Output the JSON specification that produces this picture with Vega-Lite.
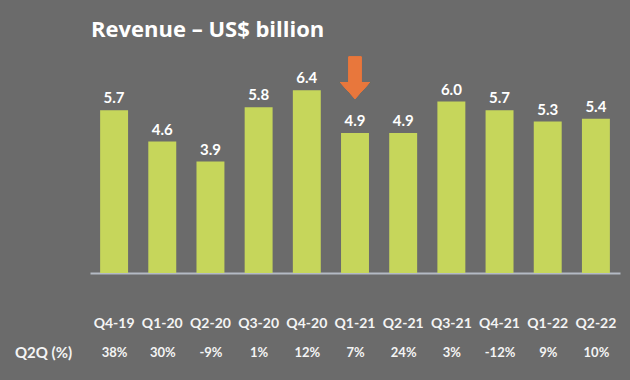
{
  "$schema": "https://vega.github.io/schema/vega-lite/v6.json",
  "width": 530,
  "height": 200,
  "autosize": "none",
  "padding": {"left": 90, "top": 73, "right": 10, "bottom": 107},
  "background": "#6b6b6b",
  "config": {"view": {"stroke": null}, "font": "Lato"},
  "title": {
    "text": "Revenue – US$ billion",
    "anchor": "start",
    "frame": "group",
    "fontSize": 22,
    "fontWeight": "bold",
    "color": "#ffffff",
    "font": "Open Sans",
    "baseline": "alphabetic",
    "offset": -2,
    "dx": 1
  },
  "data": {
    "values": [
      {"quarter": "Q4-19", "revenue": 5.7, "q2q": "38%"},
      {"quarter": "Q1-20", "revenue": 4.6, "q2q": "30%"},
      {"quarter": "Q2-20", "revenue": 3.9, "q2q": "-9%"},
      {"quarter": "Q3-20", "revenue": 5.8, "q2q": "1%"},
      {"quarter": "Q4-20", "revenue": 6.4, "q2q": "12%"},
      {"quarter": "Q1-21", "revenue": 4.9, "q2q": "7%"},
      {"quarter": "Q2-21", "revenue": 4.9, "q2q": "24%"},
      {"quarter": "Q3-21", "revenue": 6.0, "q2q": "3%"},
      {"quarter": "Q4-21", "revenue": 5.7, "q2q": "-12%"},
      {"quarter": "Q1-22", "revenue": 5.3, "q2q": "9%"},
      {"quarter": "Q2-22", "revenue": 5.4, "q2q": "10%"}
    ]
  },
  "layer": [
    {
      "encoding": {
        "x": {
          "field": "quarter",
          "type": "nominal",
          "sort": null,
          "scale": {"paddingInner": 0.42, "paddingOuter": 0.21},
          "axis": {
            "title": null,
            "orient": "bottom",
            "domain": true,
            "domainColor": "#b4bac4",
            "domainWidth": 2,
            "ticks": false,
            "tickSize": 0,
            "labelAngle": 0,
            "labelColor": "#f4f4f4",
            "labelFont": "Lato",
            "labelFontSize": 14,
            "labelFontWeight": "bold",
            "labelBaseline": "middle",
            "labelPadding": 50
          }
        }
      },
      "layer": [
        {
          "mark": {"type": "bar", "color": "#c6d65b"},
          "encoding": {
            "y": {
              "field": "revenue",
              "type": "quantitative",
              "scale": {"domain": [0, 7], "nice": false},
              "axis": null
            }
          }
        },
        {
          "mark": {
            "type": "text",
            "color": "#ffffff",
            "fontSize": 15,
            "fontWeight": "bold",
            "font": "Lato",
            "baseline": "alphabetic",
            "dy": -7
          },
          "encoding": {
            "y": {"field": "revenue", "type": "quantitative"},
            "text": {"field": "revenue", "type": "quantitative", "format": ".1f"}
          }
        },
        {
          "mark": {
            "type": "point",
            "shape": "M-0.3,-1L0.3,-1L0.3,0.2L0.72,0.2L0,1L-0.72,0.2L-0.3,0.2Z",
            "filled": true,
            "size": 1764,
            "color": "#e8773c",
            "opacity": 1
          },
          "encoding": {
            "x": {"datum": "Q1-21"},
            "y": {"datum": 6.83}
          }
        }
      ]
    },
    {
      "mark": {"type": "text", "opacity": 0, "text": ""},
      "encoding": {
        "x": {
          "field": "q2q",
          "type": "nominal",
          "sort": null,
          "scale": {"paddingInner": 0.42, "paddingOuter": 0.21},
          "axis": {
            "title": "Q2Q (%)",
            "titleAngle": 0,
            "titleX": -47,
            "titleY": 79,
            "titleAlign": "center",
            "titleBaseline": "middle",
            "titleColor": "#f4f4f4",
            "titleFont": "Lato",
            "titleFontSize": 15,
            "titleFontWeight": "bold",
            "orient": "bottom",
            "domain": false,
            "ticks": false,
            "tickSize": 0,
            "labelAngle": 0,
            "labelColor": "#f4f4f4",
            "labelFont": "Lato",
            "labelFontSize": 13,
            "labelFontWeight": "bold",
            "labelBaseline": "middle",
            "labelPadding": 79
          }
        }
      }
    }
  ],
  "resolve": {"scale": {"x": "independent"}, "axis": {"x": "independent"}}
}
